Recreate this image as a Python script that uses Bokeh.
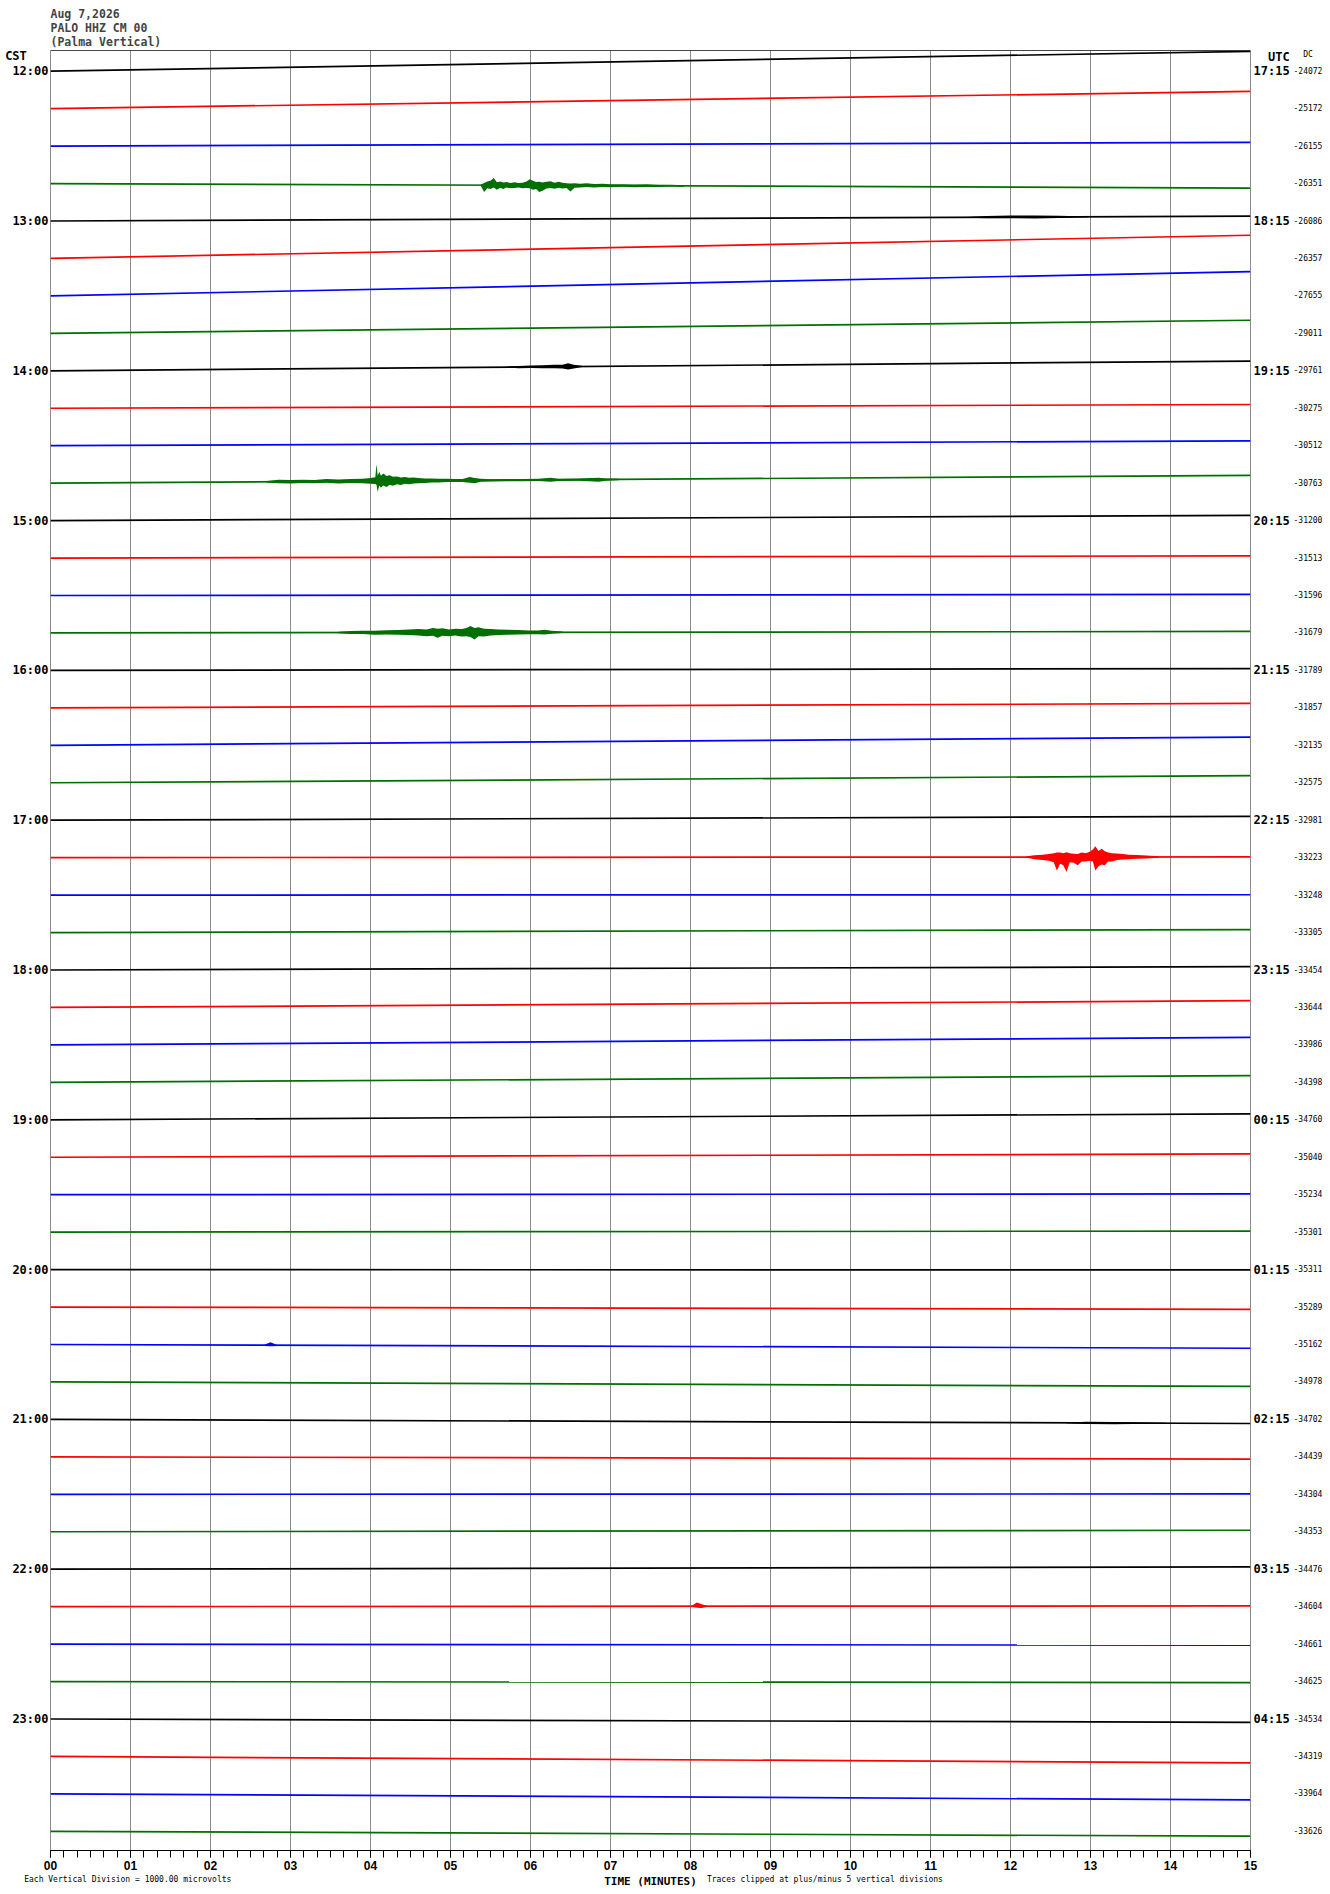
import numpy as np
from bokeh.plotting import figure
from bokeh.models import Range1d, FixedTicker, Span, LinearAxis
from bokeh.embed import file_html
from bokeh.resources import INLINE

# ---------------- data ----------------
header_lines = ["Aug 7,2026", "PALO HHZ CM 00", "(Palma Vertical)"]
cst_labels = ["12:00", "13:00", "14:00", "15:00", "16:00", "17:00",
              "18:00", "19:00", "20:00", "21:00", "22:00", "23:00"]
utc_labels = ["17:15", "18:15", "19:15", "20:15", "21:15", "22:15",
              "23:15", "00:15", "01:15", "02:15", "03:15", "04:15"]
dc_values = ["-24072", "-25172", "-26155", "-26351", "-26086", "-26357", "-27655", "-29011",
             "-29761", "-30275", "-30512", "-30763", "-31200", "-31513", "-31596", "-31679",
             "-31789", "-31857", "-32135", "-32575", "-32981", "-33223", "-33248", "-33305",
             "-33454", "-33644", "-33986", "-34398", "-34760", "-35040", "-35234", "-35301",
             "-35311", "-35289", "-35162", "-34978", "-34702", "-34439", "-34304", "-34353",
             "-34476", "-34604", "-34661", "-34625", "-34534", "-34319", "-33964", "-33626"]
# drift of each 15-minute trace at its end (vertical divisions, positive = up)
end_drift = [0.53, 0.46, 0.10, -0.12, 0.13, 0.62, 0.65, 0.35,
             0.26, 0.10, 0.13, 0.21, 0.14, 0.06, 0.03, 0.04,
             0.05, 0.12, 0.22, 0.19, 0.10, 0.02, 0.01, 0.08,
             0.09, 0.18, 0.20, 0.18, 0.16, 0.09, 0.02, 0.03,
             -0.01, -0.06, -0.10, -0.12, -0.11, -0.06, 0.01, 0.04,
             0.06, 0.02, -0.03, -0.03, -0.09, -0.17, -0.16, -0.13]
trace_palette = ["#000000", "#ff0000", "#0000ff", "#006f00"]
minutes = list(range(16))
footer_left = "Each Vertical Division = 1000.00 microvolts"
footer_mid = "TIME (MINUTES)"
footer_right = "Traces clipped at plus/minus 5 vertical divisions"

# events: (trace index, [(minute, up, down), ...]) amplitudes in divisions
ev_1245 = [(5.38, .02, .02), (5.42, .06, .18), (5.46, .10, .08), (5.50, .12, .10), (5.54, .19, .06),
           (5.58, .08, .12), (5.62, .10, .07), (5.66, .07, .10), (5.70, .09, .06), (5.75, .06, .08),
           (5.80, .08, .07), (5.85, .06, .06), (5.90, .07, .08), (5.95, .10, .07), (5.99, .16, .08),
           (6.03, .12, .12), (6.07, .09, .10), (6.11, .10, .18), (6.15, .08, .14), (6.20, .10, .08),
           (6.25, .11, .07), (6.30, .07, .09), (6.35, .10, .06), (6.40, .07, .08), (6.45, .06, .07),
           (6.50, .05, .16), (6.55, .06, .06), (6.62, .05, .05), (6.70, .06, .04), (6.80, .04, .05),
           (6.90, .05, .04), (7.00, .04, .04), (7.15, .04, .03), (7.30, .03, .04), (7.45, .04, .03),
           (7.60, .03, .03), (7.75, .03, .02), (7.92, .02, .02)]
ev_1300 = [(11.45, .01, .01), (11.70, .03, .03), (12.00, .04, .03), (12.30, .04, .04),
           (12.60, .03, .03), (12.97, .01, .01)]
ev_1400 = [(5.70, .01, .01), (5.85, .03, .03), (6.00, .04, .03), (6.15, .04, .04), (6.30, .05, .04),
           (6.40, .05, .05), (6.47, .09, .08), (6.54, .05, .05), (6.66, .01, .01)]
ev_1445 = [(2.70, .02, .02), (2.85, .05, .04), (3.00, .04, .05), (3.15, .05, .04), (3.30, .04, .05),
           (3.45, .06, .04), (3.60, .05, .06), (3.75, .06, .05), (3.90, .06, .06), (4.00, .08, .07),
           (4.06, .10, .08), (4.075, .45, .10), (4.09, .14, .29), (4.11, .25, .12), (4.13, .14, .18),
           (4.16, .20, .12), (4.20, .13, .16), (4.24, .15, .10), (4.28, .11, .13), (4.33, .12, .09),
           (4.38, .09, .11), (4.43, .10, .08), (4.48, .08, .09), (4.54, .09, .07), (4.60, .07, .07),
           (4.68, .06, .06), (4.76, .06, .05), (4.85, .05, .05), (4.95, .05, .04), (5.05, .04, .04),
           (5.15, .04, .04), (5.24, .09, .06), (5.30, .06, .08), (5.38, .04, .04), (5.50, .03, .03),
           (5.70, .03, .03), (5.90, .03, .03), (6.10, .03, .03), (6.25, .06, .05), (6.35, .03, .03),
           (6.60, .03, .03), (6.85, .05, .06), (6.95, .03, .03), (7.10, .02, .02)]
ev_1545 = [(3.60, .02, .02), (3.75, .04, .04), (3.90, .05, .04), (4.05, .05, .06), (4.20, .06, .05),
           (4.35, .07, .06), (4.48, .08, .07), (4.60, .09, .08), (4.70, .08, .10), (4.78, .12, .09),
           (4.84, .10, .14), (4.90, .11, .09), (4.98, .08, .10), (5.06, .10, .08), (5.14, .09, .11),
           (5.20, .12, .10), (5.25, .17, .12), (5.30, .12, .19), (5.35, .14, .10), (5.42, .10, .11),
           (5.50, .09, .08), (5.60, .08, .07), (5.72, .07, .06), (5.85, .06, .06), (5.98, .05, .05),
           (6.10, .05, .05), (6.18, .07, .06), (6.26, .04, .04), (6.40, .02, .02)]
ev_1715 = [(12.20, .02, .02), (12.30, .05, .06), (12.40, .06, .08), (12.48, .08, .10), (12.54, .10, .14),
           (12.58, .12, .36), (12.62, .12, .18), (12.66, .10, .22), (12.70, .13, .40), (12.74, .10, .14),
           (12.79, .09, .15), (12.84, .08, .22), (12.89, .12, .12), (12.94, .10, .12), (12.99, .14, .10),
           (13.03, .20, .12), (13.06, .29, .36), (13.10, .16, .25), (13.14, .22, .20), (13.18, .15, .22),
           (13.22, .12, .12), (13.27, .10, .12), (13.33, .09, .08), (13.40, .08, .07), (13.48, .06, .06),
           (13.58, .05, .05), (13.70, .04, .04), (13.85, .02, .02)]
ev_2030 = [(2.68, .02, .02), (2.75, .08, .03), (2.82, .02, .02)]
ev_2100 = [(12.70, .01, .01), (12.95, .03, .03), (13.30, .03, .03), (13.95, .01, .01)]
ev_2215 = [(8.02, .02, .02), (8.08, .10, .04), (8.14, .05, .05), (8.20, .02, .02)]
events = [(3, ev_1245), (4, ev_1300), (8, ev_1400), (11, ev_1445), (15, ev_1545),
          (21, ev_1715), (34, ev_2030), (36, ev_2100), (41, ev_2215)]

# ---------------- figure ----------------
n = len(dc_values)
pitch = 37.45
y_top = -20.7 / pitch
y_bot = y_top + 1800 / pitch
MONO = "DejaVu Sans Mono"
NB = "\u00a0"

p = figure(frame_width=1200, frame_height=1800,
           min_border_left=50, min_border_right=80, min_border_top=50, min_border_bottom=44,
           x_range=Range1d(0, 15), y_range=Range1d(y_bot, y_top),
           toolbar_location=None, output_backend="svg",
           background_fill_color="white", border_fill_color="white")
p.outline_line_color = "#8c8c8c"
p.outline_line_width = 1

# header: one multi-line title, left-aligned on the frame
p.title.text = "\n".join(header_lines)
p.title.align = "left"
p.title.text_font = MONO
p.title.text_font_size = "11.5px"
p.title.text_font_style = "bold"
p.title.standoff = 3
p.title.offset = 0

# grid
p.ygrid.visible = False
p.xgrid.ticker = FixedTicker(ticks=minutes)
p.xgrid.grid_line_color = "#8c8c8c"
p.xgrid.grid_line_width = 1
p.add_layout(Span(location=y_top, dimension="width", line_color="black", line_width=1.2))

# bottom minute axis
ax = p.xaxis[0]
ax.ticker = FixedTicker(ticks=minutes, minor_ticks=[i / 6 for i in range(91)])
ax.major_label_overrides = {m: f"{m:02d}" for m in minutes}
ax.axis_line_color = "black"
ax.major_tick_in = 0
ax.major_tick_out = 7
ax.minor_tick_in = 0
ax.minor_tick_out = 7
ax.major_tick_line_color = "black"
ax.minor_tick_line_color = "black"
ax.major_label_text_font = "Liberation Sans"
ax.major_label_text_font_size = "12px"
ax.major_label_text_font_style = "bold"
ax.major_label_text_color = "black"
ax.major_label_standoff = 3

# footer line as a second, line-less axis
foot_ticks = [0.966, 9.68]
ax2 = LinearAxis(ticker=FixedTicker(ticks=foot_ticks),
                 major_label_overrides={foot_ticks[0]: footer_left, foot_ticks[1]: footer_right},
                 axis_line_color=None, major_tick_line_color=None, minor_tick_line_color=None,
                 major_tick_in=0, major_tick_out=0, minor_tick_in=0, minor_tick_out=0,
                 major_label_text_font=MONO, major_label_text_font_size="8px",
                 major_label_text_color="black", major_label_standoff=2,
                 axis_label=footer_mid, axis_label_text_font=MONO, axis_label_text_font_size="11px",
                 axis_label_text_font_style="bold", axis_label_text_color="black",
                 axis_label_standoff=-12)
p.add_layout(ax2, "below")

# left CST axis
ay = p.yaxis[0]
cst_ticks = [y_top + 0.147] + [4 * i for i in range(len(cst_labels))]
ov = {cst_ticks[0]: "CST" + NB * 3}
ov.update({4 * i: s for i, s in enumerate(cst_labels)})
ay.ticker = FixedTicker(ticks=cst_ticks)
ay.major_label_overrides = ov
ay.axis_line_color = None
ay.major_tick_in = 0
ay.major_tick_out = 0
ay.minor_tick_in = 0
ay.minor_tick_out = 0
ay.major_label_text_font = MONO
ay.major_label_text_font_size = "12px"
ay.major_label_text_font_style = "bold"
ay.major_label_text_color = "black"
ay.major_label_standoff = 2

# right UTC axis
utc_ticks = [y_top + 0.163] + [4 * i for i in range(len(utc_labels))]
ov_u = {utc_ticks[0]: NB * 2 + "UTC"}
ov_u.update({4 * i: s for i, s in enumerate(utc_labels)})
ar1 = LinearAxis(ticker=FixedTicker(ticks=utc_ticks), major_label_overrides=ov_u,
                 axis_line_color=None, major_tick_in=0, major_tick_out=0, minor_tick_in=0,
                 minor_tick_out=0, major_label_text_font=MONO, major_label_text_font_size="12px",
                 major_label_text_font_style="bold", major_label_text_color="black",
                 major_label_standoff=3)
p.add_layout(ar1, "right")

# right DC axis
dc_ticks = [y_top + 0.107] + list(range(n))
ov_d = {dc_ticks[0]: NB * 2 + "DC"}
ov_d.update({k: s for k, s in enumerate(dc_values)})
ar2 = LinearAxis(ticker=FixedTicker(ticks=dc_ticks), major_label_overrides=ov_d,
                 axis_line_color=None, major_tick_in=0, major_tick_out=0, minor_tick_in=0,
                 minor_tick_out=0, major_label_text_font=MONO, major_label_text_font_size="8px",
                 major_label_text_color="black", major_label_standoff=1)
p.add_layout(ar2, "right")

# traces
colors = [trace_palette[k % 4] for k in range(n)]
xs = [[0, 15] for k in range(n)]
ys = [[k, k - end_drift[k]] for k in range(n)]
p.multi_line(xs, ys, line_color=colors, line_width=1.7)

for k, ev in events:
    t = np.array([e[0] for e in ev])
    up = np.array([e[1] for e in ev])
    dn = np.array([e[2] for e in ev])
    base = k - end_drift[k] * t / 15
    p.varea(x=t, y1=base - up, y2=base + dn, fill_color=colors[k])

open("out.html", "w").write(file_html(p, INLINE))
